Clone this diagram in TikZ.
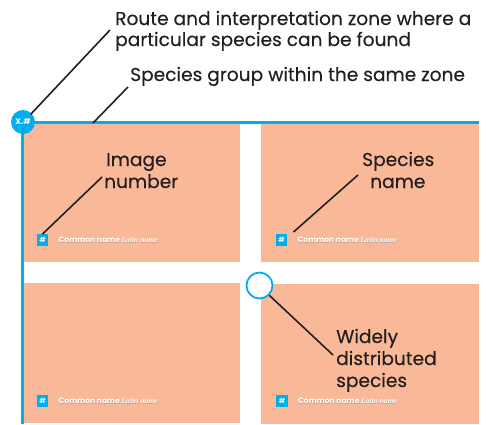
\documentclass[tikz,border=0pt]{standalone}
\usepackage{fontspec}
\setmainfont{Poppins}
\newfontfamily\lblfont{Poppins}[FakeBold=0.3]
\newfontfamily\latinfont{Liberation Serif}
\definecolor{panel}{HTML}{F9B998}
\definecolor{cyanblue}{HTML}{00AEEF}
\definecolor{ink}{HTML}{231F20}
\tikzset{
  panelbox/.style={fill=panel, draw=none},
  lead/.style={draw=ink, line width=1.6pt},
  lbl/.style={text=ink, font=\lblfont\fontsize{18.6}{21}\selectfont, inner sep=0pt, anchor=base west, align=left},
  numsq/.style={fill=cyanblue, minimum size=11.5pt, inner sep=0pt, text=white, font=\fontsize{7}{7}\selectfont\bfseries},
  captxt/.style={inner sep=0pt, anchor=west, text=white, font=\fontsize{7.6}{8}\selectfont\bfseries},
}
\newcommand{\capline}{Common name {\latinfont\itshape\bfseries Latin name}}
\begin{document}
\begin{tikzpicture}[x=1pt,y=-1pt]
\useasboundingbox (0,0) rectangle (486,424);
% panels
\fill[panel] (24,124) rectangle (240,262);
\fill[panel] (261,124) rectangle (479,262);
\fill[panel] (24,283) rectangle (240,423);
\fill[panel] (261,284) rectangle (479,424);
% blue frame
\draw[cyanblue, line width=3pt] (22.5,424) -- (22.5,122.5) -- (479,122.5);
\node[circle, fill=cyanblue, minimum size=24pt, inner sep=0pt, text=white, font=\fontsize{8}{8}\selectfont\bfseries] (zone) at (23,122) {X.\#};
% number squares and captions
\node[numsq] (n1) at (42.5,240) {\#};
\node[numsq] (n2) at (281.5,240) {\#};
\node[numsq] (n3) at (42.5,401) {\#};
\node[numsq] (n4) at (282,401) {\#};
\foreach \n in {n1,n2,n3,n4}{
  \node[captxt, text=black!45, opacity=0.6] at ([xshift=10.3pt,yshift=-0.6pt]\n.east) {\capline};
  \node[captxt] (c\n) at ([xshift=10pt]\n.east) {\capline};
}
% magnifier
\node[circle, draw=cyanblue, line width=1.8pt, fill=white, minimum size=26pt, inner sep=0pt] (mag) at (259.5,285.5) {};
% labels
\node[lbl] (t1) at (115,25) {Route and interpretation zone where a};
\node[lbl] (t2) at (115,46) {particular species can be found};
\node[lbl] (t3) at (130,81) {Species group within the same zone};
\node[lbl] (t4) at (106,166) {Image};
\node[lbl] (t5) at (104,188) {number};
\node[lbl] (t6) at (362,166) {Species};
\node[lbl] (t7) at (370,188) {name};
\node[lbl] (t8) at (336,343) {Widely};
\node[lbl] (t9) at (336,365) {distributed};
\node[lbl] (t10) at (336,387) {species};
% leader lines
\coordinate (a1) at (110,30);
\coordinate (a2) at (128,87);
\coordinate (b2) at (93,123);
\coordinate (a3) at (102,177);
\coordinate (a4) at (358,175);
\coordinate (a5) at (333,355);
\draw[lead] (zone.north east) ++(-1,1) -- (a1);
\draw[lead] (b2) -- (a2);
\draw[lead] (n1.north) -- (a3);
\draw[lead] (n2.north east) ++(6,-2) -- (a4);
\draw[lead] (mag.south east) -- (a5);
\end{tikzpicture}
\end{document}
